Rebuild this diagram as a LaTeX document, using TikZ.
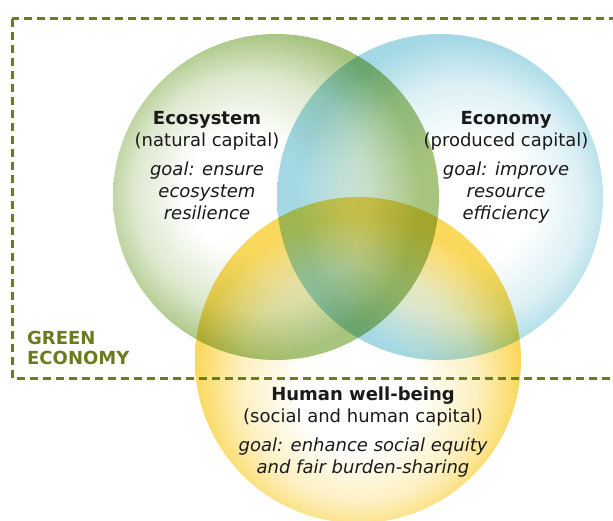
\documentclass[tikz,border=0pt]{standalone}
\usepackage{fontspec}
\setmainfont{DejaVu Sans}
\usetikzlibrary{positioning}
\usepackage{xcolor}
\definecolor{ecogreen}{HTML}{A6C47E}
\definecolor{econblue}{HTML}{A3D8E4}
\definecolor{humanyellow}{HTML}{FAD85C}
\definecolor{greenecon}{HTML}{6B7B1F}
\definecolor{textgrey}{HTML}{1A1A1A}
\pgfdeclareradialshading{ecoshade}{\pgfpoint{-6bp}{1bp}}{color(0bp)=(white); color(9bp)=(white); color(18bp)=(ecogreen!38!white); color(25bp)=(ecogreen); color(50bp)=(ecogreen)}
\pgfdeclareradialshading{econshade}{\pgfpoint{6bp}{-1bp}}{color(0bp)=(white); color(9bp)=(white); color(18bp)=(econblue!38!white); color(25bp)=(econblue); color(50bp)=(econblue)}
\pgfdeclareradialshading{humanshade}{\pgfpoint{0bp}{-6bp}}{color(0bp)=(white); color(9bp)=(white); color(18bp)=(humanyellow!38!white); color(25bp)=(humanyellow); color(50bp)=(humanyellow)}

\begin{document}
\begin{tikzpicture}[x=1pt,y=-1pt,
  every node/.style={font=\fontsize{18}{22}\selectfont, text=textgrey, inner sep=0pt},
  titletext/.style={align=center},
  goaltext/.style={align=center, font=\fontsize{18}{22}\selectfont\itshape}]
\useasboundingbox (0,0) rectangle (613,521);
% the three capitals
\begin{scope}[blend group=multiply]
\shade[shading=ecoshade] (276,197) circle[radius=163pt];
\shade[shading=econshade] (440,197) circle[radius=163pt];
\shade[shading=humanshade] (358,360) circle[radius=163pt];
\end{scope}
% green economy frame
\draw[greenecon, line width=3pt, dash pattern=on 8pt off 5pt] (12,19) rectangle (625,378);
\node[anchor=west, align=left, text=greenecon, font=\fontsize{18}{20}\selectfont\bfseries] (green) at (27,348) {GREEN\\ECONOMY};

\node[titletext] (ecotitle) at (207,131) {\textbf{Ecosystem}\\(natural capital)};
\node[goaltext, below=11pt of ecotitle] (ecogoal) {goal: ensure\\ecosystem\\resilience};

\node[titletext] (econtitle) at (506,131) {\textbf{Economy}\\(produced capital)};
\node[goaltext, below=11pt of econtitle] (econgoal) {goal: improve\\resource\\efficiency};

\node[titletext] (humantitle) at (363,407) {\textbf{Human well-being}\\(social and human capital)};
\node[goaltext, below=11pt of humantitle] (humangoal) {goal: enhance social equity\\and fair burden-sharing};
\end{tikzpicture}
\end{document}
